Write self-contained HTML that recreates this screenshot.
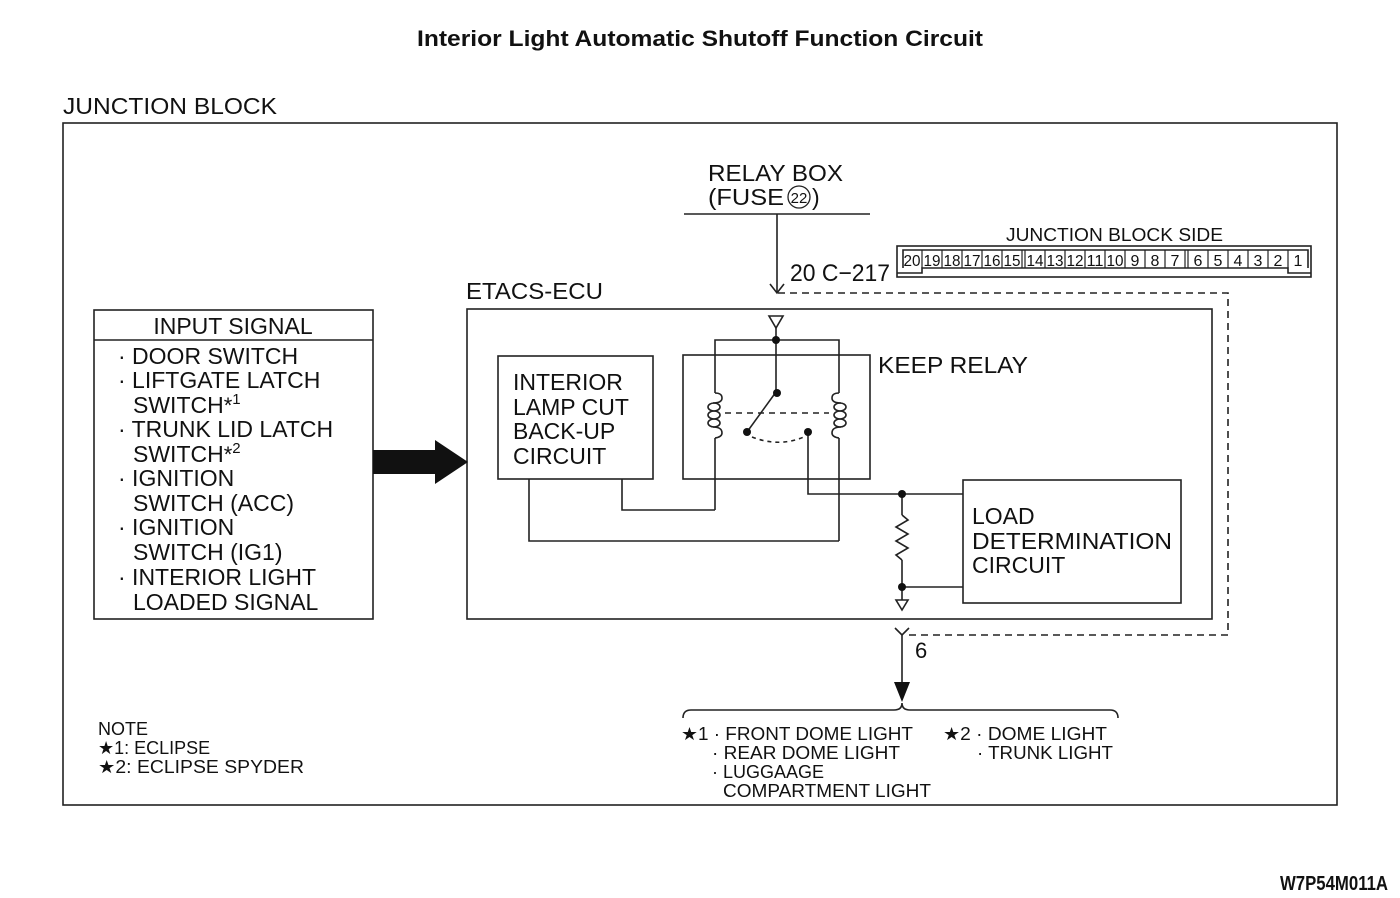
<!DOCTYPE html>
<html><head><meta charset="utf-8"><style>
html,body{margin:0;padding:0;background:#fff}
svg{display:block}
text{font-family:"Liberation Sans",sans-serif;fill:#111}
</style></head><body>
<svg width="1400" height="898" viewBox="0 0 1400 898" xmlns="http://www.w3.org/2000/svg">
<g stroke="#222" stroke-width="1.6" fill="none">
<rect x="63" y="123" width="1274" height="682"/>
<rect x="94" y="310" width="279" height="309"/>
<line x1="94" y1="340" x2="373" y2="340"/>
<rect x="467" y="309" width="745" height="310"/>
<rect x="498" y="356" width="155" height="123"/>
<rect x="683" y="355" width="187" height="124"/>
<rect x="963" y="480" width="218" height="123"/>
<line x1="684" y1="214" x2="870" y2="214"/>
<line x1="777" y1="214" x2="777" y2="293"/>
<polyline points="770,284 777,293 784,284"/>
<polyline points="778,293 1228,293 1228,635 908,635" stroke-dasharray="7,5"/>
<polygon points="769,316 783,316 776,328"/>
<line x1="776" y1="328" x2="776" y2="392"/>
<polyline points="715,393 715,340 839,340 839,393"/>
<!-- left coil -->
<path d="M715,393 q7,0 7,5 q0,5 -9,5"/>
<ellipse cx="714" cy="407" rx="6" ry="4"/>
<ellipse cx="714" cy="415" rx="6" ry="4"/>
<ellipse cx="714" cy="423" rx="6" ry="4"/>
<path d="M713,427 q9,0 9,6 q0,4 -7,5"/>
<line x1="715" y1="438" x2="715" y2="510"/>
<!-- right coil -->
<path d="M839,393 q-7,0 -7,5 q0,5 9,5"/>
<ellipse cx="840" cy="407" rx="6" ry="4"/>
<ellipse cx="840" cy="415" rx="6" ry="4"/>
<ellipse cx="840" cy="423" rx="6" ry="4"/>
<path d="M841,427 q-9,0 -9,6 q0,4 7,5"/>
<line x1="839" y1="438" x2="839" y2="541"/>
<line x1="776" y1="392" x2="747" y2="432"/>
<line x1="725" y1="413" x2="829" y2="413" stroke-dasharray="6,5"/>
<path d="M752,437 Q780,448 806,436" stroke-dasharray="4,4"/>
<polyline points="715,510 622,510 622,479"/>
<polyline points="839,541 529,541 529,479"/>
<polyline points="808,432 808,494 963,494"/>
<line x1="902" y1="494" x2="902" y2="515"/>
<polyline points="902,515 908,520 896,527 908,534 896,541 908,548 896,555 902,560"/>
<line x1="902" y1="560" x2="902" y2="600"/>
<line x1="902" y1="587" x2="963" y2="587"/>
<polygon points="896,600 908,600 902,610"/>
<polyline points="895,628 902,635 909,628"/>
<line x1="902" y1="635" x2="902" y2="686"/>
<path d="M683,718 q0,-8 8,-8 L894,710 q8,0 8,-7 q0,7 8,7 L1110,710 q8,0 8,8"/>
<rect x="897" y="246" width="414" height="31"/>
<polyline points="903,268 903,250 1308,250 1308,268"/>
<polyline points="897,273 922,273 922,268 1288,268 1288,273 1311,273"/>
</g>
<g fill="#111">
<polygon points="373,450 435,450 435,440 468,462 435,484 435,474 373,474"/>
<polygon points="894,682 910,682 902,702"/>
<circle cx="776" cy="340" r="4"/>
<circle cx="777" cy="393" r="4"/>
<circle cx="747" cy="432" r="4"/>
<circle cx="808" cy="432" r="4"/>
<circle cx="902" cy="494" r="4"/>
<circle cx="902" cy="587" r="4"/>
</g>
<g stroke="#222" stroke-width="1.2">
<line x1="922" y1="250" x2="922" y2="268"/><line x1="942" y1="250" x2="942" y2="268"/><line x1="962" y1="250" x2="962" y2="268"/><line x1="982" y1="250" x2="982" y2="268"/><line x1="1002" y1="250" x2="1002" y2="268"/>
<line x1="1022" y1="250" x2="1022" y2="268"/><line x1="1025" y1="250" x2="1025" y2="268"/>
<line x1="1045" y1="250" x2="1045" y2="268"/><line x1="1065" y1="250" x2="1065" y2="268"/><line x1="1085" y1="250" x2="1085" y2="268"/><line x1="1105" y1="250" x2="1105" y2="268"/><line x1="1125" y1="250" x2="1125" y2="268"/><line x1="1145" y1="250" x2="1145" y2="268"/><line x1="1165" y1="250" x2="1165" y2="268"/>
<line x1="1185" y1="250" x2="1185" y2="268"/><line x1="1188" y1="250" x2="1188" y2="268"/>
<line x1="1208" y1="250" x2="1208" y2="268"/><line x1="1228" y1="250" x2="1228" y2="268"/><line x1="1248" y1="250" x2="1248" y2="268"/><line x1="1268" y1="250" x2="1268" y2="268"/><line x1="1288" y1="250" x2="1288" y2="268"/>
</g>
<g font-size="16" text-anchor="middle">
<text x="912" y="266" textLength="17" lengthAdjust="spacingAndGlyphs">20</text><text x="932" y="266" textLength="17" lengthAdjust="spacingAndGlyphs">19</text><text x="952" y="266" textLength="17" lengthAdjust="spacingAndGlyphs">18</text><text x="972" y="266" textLength="17" lengthAdjust="spacingAndGlyphs">17</text><text x="992" y="266" textLength="17" lengthAdjust="spacingAndGlyphs">16</text><text x="1012" y="266" textLength="17" lengthAdjust="spacingAndGlyphs">15</text>
<text x="1035" y="266" textLength="17" lengthAdjust="spacingAndGlyphs">14</text><text x="1055" y="266" textLength="17" lengthAdjust="spacingAndGlyphs">13</text><text x="1075" y="266" textLength="17" lengthAdjust="spacingAndGlyphs">12</text><text x="1095" y="266" textLength="17" lengthAdjust="spacingAndGlyphs">11</text><text x="1115" y="266" textLength="17" lengthAdjust="spacingAndGlyphs">10</text><text x="1135" y="266">9</text><text x="1155" y="266">8</text><text x="1175" y="266">7</text>
<text x="1198" y="266">6</text><text x="1218" y="266">5</text><text x="1238" y="266">4</text><text x="1258" y="266">3</text><text x="1278" y="266">2</text><text x="1298" y="266">1</text>
</g>
<text x="700" y="46" font-size="22" font-weight="bold" text-anchor="middle" textLength="566" lengthAdjust="spacingAndGlyphs">Interior Light Automatic Shutoff Function Circuit</text>
<text x="63" y="114" font-size="23" textLength="214" lengthAdjust="spacingAndGlyphs">JUNCTION BLOCK</text>
<text x="708" y="181" font-size="23" textLength="135" lengthAdjust="spacingAndGlyphs">RELAY BOX</text>
<text x="708" y="205" font-size="23" textLength="76" lengthAdjust="spacingAndGlyphs">(FUSE</text>
<circle cx="799" cy="197" r="11" fill="none" stroke="#222" stroke-width="1.3"/>
<text x="799" y="203" font-size="15" text-anchor="middle">22</text>
<text x="812" y="205" font-size="23">)</text>
<text x="1006" y="241" font-size="18" textLength="217" lengthAdjust="spacingAndGlyphs">JUNCTION BLOCK SIDE</text>
<text x="790" y="281" font-size="24" textLength="100" lengthAdjust="spacingAndGlyphs">20 C−217</text>
<text x="466" y="299" font-size="23" textLength="137" lengthAdjust="spacingAndGlyphs">ETACS-ECU</text>
<text x="878" y="373" font-size="23" textLength="150" lengthAdjust="spacingAndGlyphs">KEEP RELAY</text>
<g font-size="23">
<text x="513" y="390">INTERIOR</text><text x="513" y="415">LAMP CUT</text><text x="513" y="439">BACK-UP</text><text x="513" y="464">CIRCUIT</text>
<text x="972" y="524">LOAD</text><text x="972" y="549" textLength="200" lengthAdjust="spacingAndGlyphs">DETERMINATION</text><text x="972" y="573">CIRCUIT</text>
<text x="233" y="334" text-anchor="middle">INPUT SIGNAL</text>
<text x="118" y="364">· DOOR SWITCH</text>
<text x="118" y="388">· LIFTGATE LATCH</text>
<text x="133" y="413">SWITCH<tspan font-size="22">*</tspan><tspan font-size="15" dy="-9">1</tspan></text>
<text x="118" y="437">· TRUNK LID LATCH</text>
<text x="133" y="462">SWITCH<tspan font-size="22">*</tspan><tspan font-size="15" dy="-9">2</tspan></text>
<text x="118" y="486">· IGNITION</text>
<text x="133" y="511">SWITCH (ACC)</text>
<text x="118" y="535">· IGNITION</text>
<text x="133" y="560">SWITCH (IG1)</text>
<text x="118" y="585">· INTERIOR LIGHT</text>
<text x="133" y="610">LOADED SIGNAL</text>
</g>
<text x="915" y="658" font-size="22">6</text>
<g font-size="18">
<text x="98" y="735">NOTE</text>
<text x="98" y="754">★1: ECLIPSE</text>
<text x="98" y="773" textLength="206" lengthAdjust="spacingAndGlyphs">★2: ECLIPSE SPYDER</text>
<text x="681" y="740" textLength="232" lengthAdjust="spacingAndGlyphs">★1 · FRONT DOME LIGHT</text>
<text x="712" y="759" textLength="188" lengthAdjust="spacingAndGlyphs">· REAR DOME LIGHT</text>
<text x="712" y="778">· LUGGAAGE</text>
<text x="723" y="797" textLength="208" lengthAdjust="spacingAndGlyphs">COMPARTMENT LIGHT</text>
<text x="943" y="740" textLength="164" lengthAdjust="spacingAndGlyphs">★2 · DOME LIGHT</text>
<text x="977" y="759" textLength="136" lengthAdjust="spacingAndGlyphs">· TRUNK LIGHT</text>
</g>
<text x="1388" y="890" font-size="20" font-weight="bold" text-anchor="end" textLength="108" lengthAdjust="spacingAndGlyphs">W7P54M011A</text>
</svg>
</body></html>
